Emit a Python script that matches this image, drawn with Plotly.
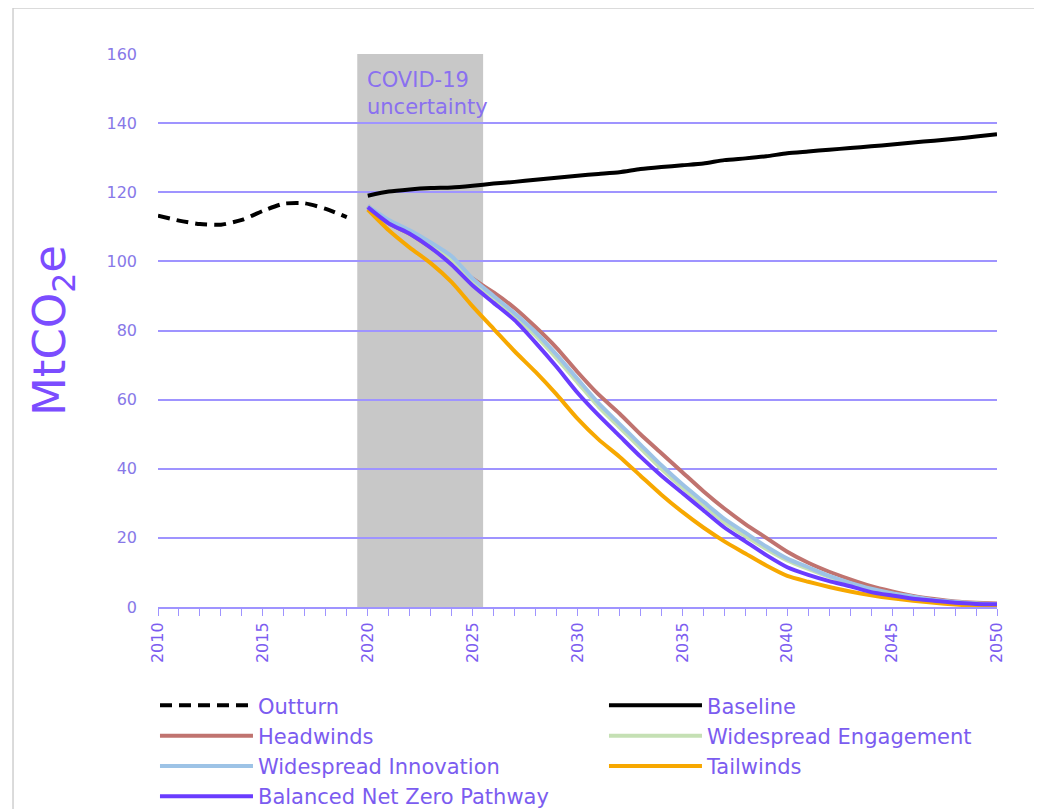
import plotly.graph_objects as go

outturn_years = list(range(2010, 2020))
outturn = [113.2, 111.8, 110.8, 110.6, 112.0, 114.6, 116.7, 116.8, 115.2, 112.8]

years = list(range(2020, 2051))
baseline = [119.0, 120.2, 120.8, 121.2, 121.4, 121.9, 122.5, 123.0, 123.6, 124.2,
            124.8, 125.3, 125.8, 126.7, 127.3, 127.8, 128.3, 129.3, 129.8, 130.4,
            131.3, 131.8, 132.3, 132.8, 133.3, 133.8, 134.4, 134.9, 135.5, 136.1, 136.8]
headwinds = [116.0, 111.0, 108.0, 104.0, 100.0, 95.0, 91.0, 86.5, 81.0, 75.0,
             68.0, 61.5, 56.0, 50.0, 44.5, 39.0, 33.5, 28.5, 24.0, 20.0,
             16.0, 12.8, 10.2, 8.0, 6.0, 4.5, 3.2, 2.3, 1.6, 1.2, 1.0]
engagement = [116.0, 111.5, 108.5, 105.0, 100.5, 94.0, 89.0, 84.0, 78.5, 72.0,
              65.0, 58.0, 52.0, 46.0, 40.0, 34.5, 29.5, 24.5, 20.5, 16.8,
              13.5, 11.0, 8.7, 6.8, 5.0, 3.8, 2.8, 1.9, 1.4, 1.0, 0.8]
innovation = [116.0, 112.0, 109.0, 105.5, 101.5, 95.0, 90.0, 85.0, 79.5, 73.0,
              66.0, 59.0, 53.0, 47.0, 41.0, 35.5, 30.5, 25.5, 21.5, 17.5,
              14.0, 11.5, 9.0, 7.0, 5.3, 4.0, 3.0, 2.0, 1.5, 1.0, 0.8]
tailwinds = [115.0, 109.0, 104.0, 99.5, 94.0, 87.0, 80.5, 74.0, 68.0, 61.5,
             54.5, 48.5, 43.5, 38.0, 32.5, 27.5, 23.0, 19.0, 15.5, 12.0,
             9.0, 7.3, 5.8, 4.5, 3.4, 2.5, 1.8, 1.2, 0.7, 0.4, 0.3]
balanced = [115.7, 111.0, 108.0, 104.0, 99.0, 93.0, 88.0, 83.0, 76.5, 69.5,
            62.0, 55.5, 49.5, 43.5, 38.0, 33.0, 28.0, 23.0, 19.0, 15.0,
            11.5, 9.3, 7.5, 6.0, 4.3, 3.3, 2.4, 1.8, 1.2, 0.9, 0.8]

purple = "#7B5CF0"
grid = "#9F94FF"
font = "DejaVu Sans"

fig = go.Figure()

def add(name, x, y, color, dash="solid"):
    fig.add_trace(go.Scatter(x=x, y=y, name=name, mode="lines",
                             line=dict(color=color, width=4, dash=dash,
                                       shape="spline", smoothing=0.6)))

add("Outturn", outturn_years, outturn, "black", "12px,7px")
add("Baseline", years, baseline, "black")
add("Headwinds", years, headwinds, "#C0736F")
add("Widespread Engagement", years, engagement, "#C5E0B4")
add("Widespread Innovation", years, innovation, "#9DC3E6")
add("Tailwinds", years, tailwinds, "#F7A800")
add("Balanced Net Zero Pathway", years, balanced, "#6A3CFF")

# covid band
fig.add_vrect(x0=2019.5, x1=2025.5, fillcolor="#C8C8C8", opacity=1,
              line_width=0, layer="below")
fig.add_annotation(x=2019.85, y=156.5, xref="x", yref="y", xanchor="left", yanchor="top",
                   text="COVID-19<br>uncertainty", showarrow=False, align="left",
                   font=dict(family=font, size=21, color="#8A70F0"))

# outer frame
fig.add_shape(type="rect", xref="paper", yref="paper",
              x0=-0.1728, x1=1.0477, y0=-0.40, y1=1.083,
              line=dict(color="#CFCFCF", width=1.5), fillcolor="rgba(0,0,0,0)")

fig.update_layout(
    width=1042, height=809,
    margin=dict(l=150, r=53, t=46, b=210, autoexpand=False),
    plot_bgcolor="white", paper_bgcolor="white",
    font=dict(family=font, color=purple),
    showlegend=True,
    legend=dict(orientation="h", x=-0.0036, y=-0.1414, xanchor="left", yanchor="top",
                itemwidth=93, entrywidth=341, entrywidthmode="pixels",
                font=dict(family=font, size=21, color=purple),
                bgcolor="rgba(0,0,0,0)"),
)

fig.update_xaxes(range=[2010, 2050], showgrid=False, tickmode="linear", tick0=2010,
                 dtick=5, tickangle=-90, ticks="outside", ticklen=7, tickcolor=grid,
                 tickfont=dict(family=font, size=16, color=purple),
                 showline=True, linecolor=grid, linewidth=2, zeroline=False,
                 minor=dict(dtick=1, ticks="outside", ticklen=7, tickcolor=grid))
fig.update_yaxes(range=[0, 160], dtick=20, showgrid=True, gridcolor=grid, gridwidth=1.5,
                 zeroline=False, showline=False, ticks="", ticklabelstandoff=20,
                 tickfont=dict(family=font, size=16, color="#8878E8"),
                 title=dict(text="MtCO<sub>2</sub>e", standoff=26,
                            font=dict(family=font, size=45, color="#7B4DFF")))

fig.write_html("out.html")
